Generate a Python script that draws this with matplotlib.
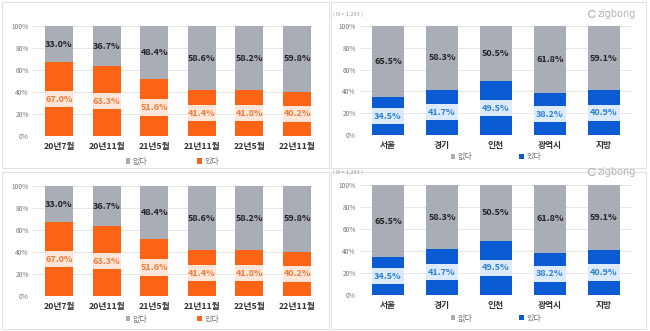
import matplotlib
matplotlib.use("Agg")
import matplotlib.pyplot as plt
from matplotlib.patches import Rectangle, Arc
import numpy as np

plt.rcParams["font.family"] = ["Noto Sans CJK KR", "DejaVu Sans"]

# survey rounds (left panels)
periods = ["20년7월", "20년11월", "21년5월", "21년11월", "22년5월", "22년11월"]
period_yes = [67.0, 63.3, 51.6, 41.4, 41.8, 40.2]
period_no = [33.0, 36.7, 48.4, 58.6, 58.2, 59.8]

# regions (right panels)
regions = ["서울", "경기", "인천", "광역시", "지방"]
region_yes = [34.5, 41.7, 49.5, 38.2, 40.9]
region_no = [65.5, 58.3, 50.5, 61.8, 59.1]

yticks = [0, 20, 40, 60, 80, 100]
legend_labels = ["없다", "있다"]
sample_note = "( N = 1,293 )"

GRAY = "#a9adb6"
ORANGE = "#fa6414"
BLUE = "#0b5bd3"
BAR_W = 0.59
BAND = 15  # height of the label highlight band, in % units

W, H = 650, 331
fig = plt.figure(figsize=(6.5, 3.31), dpi=100)


def px_axes(x0, y0, x1, y1):
    return fig.add_axes([x0 / W, 1 - y1 / H, (x1 - x0) / W, (y1 - y0) / H])


def stacked(ax, cats, yes, no, color, txt_color, box_color, xlim, leg_anchor, colsp):
    x = np.arange(len(cats))
    yes = np.asarray(yes)
    b_yes = ax.bar(x, yes, width=BAR_W, color=color, label=legend_labels[1], zorder=2)
    b_no = ax.bar(x, no, bottom=yes, width=BAR_W, color=GRAY, label=legend_labels[0], zorder=2)
    # light highlight band behind the "있다" label
    ax.bar(x, BAND, bottom=yes / 2 - BAND / 2, width=BAR_W, color=box_color, zorder=2.5)
    for xi, y, n in zip(x, yes, no):
        ax.text(xi, y / 2, f"{y:.1f}%", ha="center", va="center", fontsize=6.5,
                fontweight="bold", color=txt_color, zorder=3)
        ax.text(xi, y + n / 2, f"{n:.1f}%", ha="center", va="center", fontsize=6.5,
                fontweight="bold", color="#222222", zorder=3)
    ax.set_ylim(0, 100)
    ax.set_xlim(*xlim)
    ax.set_yticks(yticks)
    ax.set_yticklabels([f"{t}%" for t in yticks], fontsize=4.8, color="#777777")
    ax.set_xticks(x)
    ax.set_xticklabels(cats, fontsize=6.3, fontweight="bold", color="#333333")
    ax.tick_params(axis="both", length=0)
    ax.tick_params(axis="x", pad=4)
    ax.tick_params(axis="y", pad=3)
    ax.grid(axis="y", color="#e3e3e3", linewidth=0.6, zorder=0)
    for s in ax.spines.values():
        s.set_visible(False)
    ax.legend(handles=[b_no, b_yes], loc="center", bbox_to_anchor=leg_anchor,
              ncol=2, frameon=False, fontsize=5.8, handlelength=0.6, handleheight=0.6,
              handletextpad=0.3, columnspacing=colsp, labelcolor="#777777")


# panel frames
for (x0, y0, x1, y1) in [(2, 2, 329, 168), (331, 2, 646, 168),
                         (2, 172, 329, 329), (331, 172, 646, 329)]:
    fig.patches.append(Rectangle((x0 / W, 1 - y1 / H), (x1 - x0) / W, (y1 - y0) / H,
                                 transform=fig.transFigure, fill=False,
                                 ec="#e2e2e2", lw=0.8))

ax1 = px_axes(33, 26, 312, 136)
stacked(ax1, periods, period_yes, period_no, ORANGE, "#f07a38", "#fde6d8",
        (-0.546, 5.315), (0.5, -0.23), 6.2)

ax3 = px_axes(33, 186, 312, 296)
stacked(ax3, periods, period_yes, period_no, ORANGE, "#f07a38", "#fde6d8",
        (-0.546, 5.315), (0.5, -0.21), 6.2)

ax2 = px_axes(360, 26, 632, 135)
stacked(ax2, regions, region_yes, region_no, BLUE, "#2a7fd6", "#dcebfb",
        (-0.52, 4.52), (0.5, -0.2), 5.8)

ax4 = px_axes(360, 185, 632, 295)
stacked(ax4, regions, region_yes, region_no, BLUE, "#2a7fd6", "#dcebfb",
        (-0.52, 4.52), (0.5, -0.21), 5.8)

# sample-size note and logo for the right panels
for ytop in (14, 172):
    fig.text(333 / W, 1 - ytop / H, sample_note, fontsize=4, style="italic",
             color="#999999", ha="left", va="center")
    fig.text(598 / W, 1 - ytop / H, "zigbong", fontsize=7, color="#b5b5b5",
             ha="left", va="center", family="DejaVu Sans")
    fig.patches.append(Arc((592 / W, 1 - ytop / H), 7 / W, 7 / H, theta1=40, theta2=320,
                           transform=fig.transFigure, color="#b5b5b5", lw=0.9))

fig.savefig("out.png", dpi=100, facecolor="white")
